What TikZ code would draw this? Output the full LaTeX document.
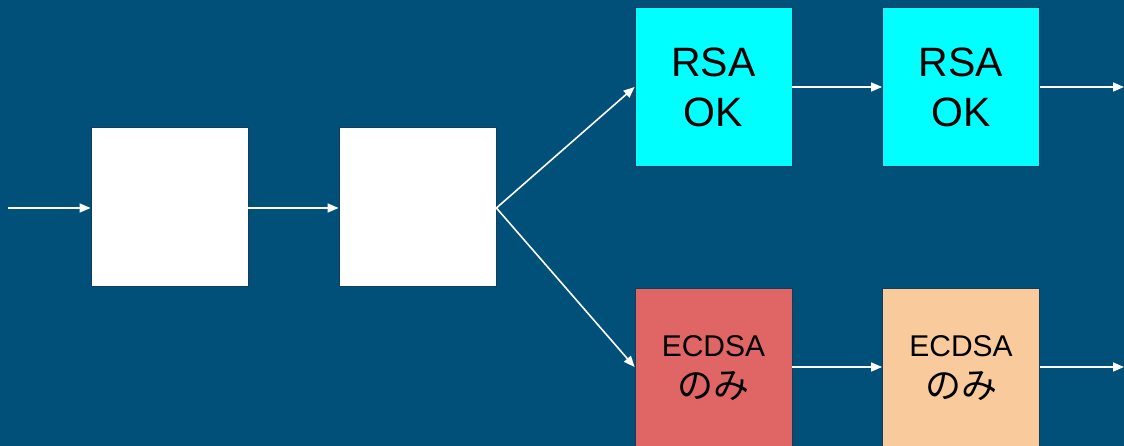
\documentclass[tikz,border=0pt]{standalone}
\usepackage{fontspec}
\setmainfont{Liberation Sans}
\newfontfamily\jpfont{Noto Sans CJK JP}
\usetikzlibrary{arrows.meta}
\definecolor{bgblue}{RGB}{1,80,122}
\definecolor{edgeblue}{RGB}{20,60,90}
\definecolor{boxcyan}{RGB}{0,255,255}
\definecolor{boxred}{RGB}{224,102,102}
\definecolor{boxpeach}{RGB}{249,203,156}
\tikzset{
  stagebox/.style={draw=edgeblue, line width=0.8pt, minimum width=157pt,
    minimum height=159pt, inner sep=0pt, align=center, text=black},
  rsatext/.style={font=\fontsize{41}{50}\selectfont},
  ecdsatext/.style={font=\fontsize{30}{42}\selectfont},
  flow/.style={draw=white, line width=1.6pt,
    -{Triangle[length=11pt,width=9pt]}},
}
\newcommand{\onlyjp}{{\jpfont\fontsize{36}{42}\selectfont のみ}}
\begin{document}
\begin{tikzpicture}[x=1pt,y=-1pt]
  \fill[bgblue] (0,0) rectangle (1124,446);
  \useasboundingbox (0,0) rectangle (1124,446);
  \clip (0,0) rectangle (1124,446);

  % input stages
  \node[stagebox, fill=white] (w1) at (169.5,207) {};
  \node[stagebox, fill=white] (w2) at (417.5,207) {};

  % RSA branch
  \node[stagebox, rsatext, fill=boxcyan] (r1) at (713.5,87) {RSA\\OK};
  \node[stagebox, rsatext, fill=boxcyan] (r2) at (961,87) {RSA\\OK};

  % ECDSA branch
  \node[stagebox, ecdsatext, fill=boxred] (e1) at (713.5,368) {ECDSA\\\onlyjp};
  \node[stagebox, ecdsatext, fill=boxpeach] (e2) at (961,368) {ECDSA\\\onlyjp};

  \coordinate (in) at (8,208);
  \coordinate (outR) at (1124,87);
  \coordinate (outE) at (1124,367);

  \draw[flow] (in) -- (w1.west |- in);
  \draw[flow] (w1.east |- in) -- (w2.west |- in);
  \draw[flow] (w2.east |- in) -- (r1.west);
  \draw[flow] (w2.east |- in) -- (e1.west |- outE);
  \draw[flow] (r1.east) -- (r2.west);
  \draw[flow] (r2.east) -- (outR);
  \draw[flow] (e1.east |- outE) -- (e2.west |- outE);
  \draw[flow] (e2.east |- outE) -- (outE);
\end{tikzpicture}
\end{document}
